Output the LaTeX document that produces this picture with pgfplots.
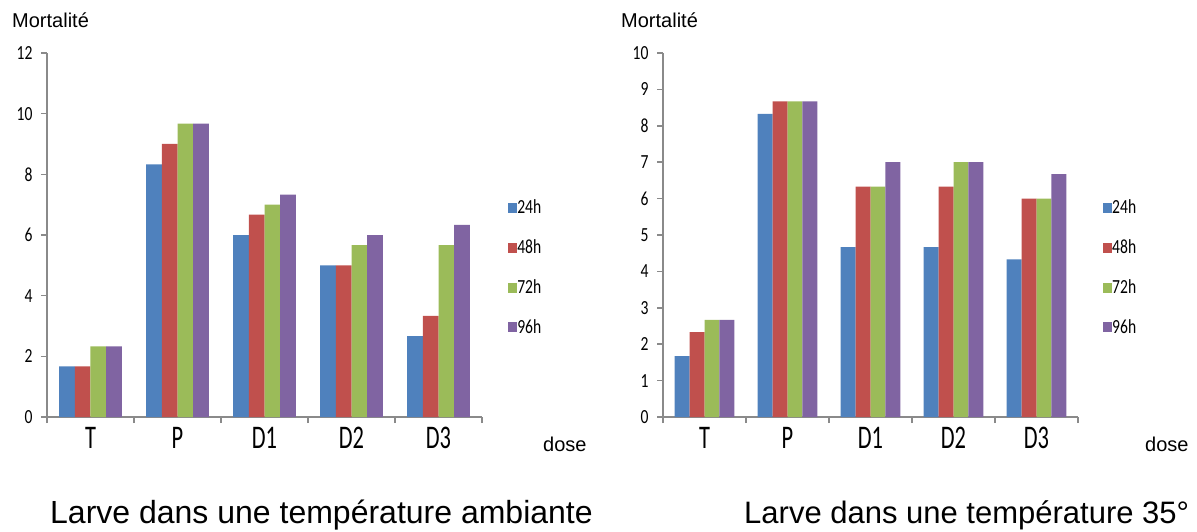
\documentclass[border=0pt]{standalone}
\usepackage{pgfplots}
\pgfplotsset{compat=1.18}
\usepackage{fontspec}
\setmainfont{Liberation Sans}
\newfontfamily\carl{Carlito}
\definecolor{cA}{HTML}{4F81BD}
\definecolor{cB}{HTML}{C0504D}
\definecolor{cC}{HTML}{9BBB59}
\definecolor{cD}{HTML}{8064A2}
\definecolor{axgray}{HTML}{8A8A8A}
\newcommand{\sx}[1]{\scalebox{0.68}[1]{#1}}
\newcommand{\sy}[1]{\scalebox{0.78}[1]{#1}}
\pgfplotsset{
  sq/.style={legend image code/.code={\fill[##1,draw=none] (0pt,-5pt) rectangle (9pt,5pt);}},
  mystyle/.style={
    scale only axis, height=364pt,
    ybar=0pt, bar width=0.18,
    xmin=-0.5, xmax=4.5, ymin=0,
    axis x line*=bottom, axis y line*=left,
    axis line style={draw=axgray, line width=1.5pt, -},
    tick style={draw=axgray, line width=1.5pt},
    tick align=outside, major tick length=6pt,
    xtick={-0.5,0.5,1.5,2.5,3.5,4.5}, xticklabels={},
    extra x ticks={0,1,2,3,4},
    extra x tick labels={\sx{T},\sx{P},\sx{D1},\sx{D2},\sx{D3}},
    extra x tick style={major tick length=0pt, tick style={draw=none}},
    xticklabel style={font=\carl\fontsize{33}{33}\selectfont, yshift=-7pt},
    /pgf/number format/assume math mode=true,
    yticklabel={\sy{\pgfmathprintnumber{\tick}}},
    yticklabel style={font=\carl\fontsize{20}{20}\selectfont, xshift=-5pt},
    legend style={draw=none, fill=none, at={(1.053,0.602)}, anchor=north west,
      font=\carl\fontsize{20}{20}\selectfont, row sep=24.5pt,
      nodes={inner sep=0pt},
      /tikz/every even column/.append style={column sep=5pt}},
    legend cell align=left,
  }
}
\begin{document}
\begin{tikzpicture}[x=1pt,y=1pt]
\useasboundingbox (0,0) rectangle (1197,531);
\begin{axis}[mystyle, at={(47pt,114pt)}, anchor=south west, width=435pt, ymax=12, ytick={0,2,...,12}]
\addplot[fill=cA, draw=none, sq] coordinates {(0,1.67) (1,8.33) (2,6) (3,5) (4,2.67)};
\addplot[fill=cB, draw=none, sq] coordinates {(0,1.67) (1,9) (2,6.67) (3,5) (4,3.33)};
\addplot[fill=cC, draw=none, sq] coordinates {(0,2.33) (1,9.67) (2,7) (3,5.67) (4,5.67)};
\addplot[fill=cD, draw=none, sq] coordinates {(0,2.33) (1,9.67) (2,7.33) (3,6) (4,6.33)};
\legend{\sy{24h},\sy{48h},\sy{72h},\sy{96h}}
\end{axis}
\begin{axis}[mystyle, at={(663pt,114pt)}, anchor=south west, width=415pt, ymax=10, ytick={0,1,...,10}]
\addplot[fill=cA, draw=none, sq] coordinates {(0,1.67) (1,8.33) (2,4.67) (3,4.67) (4,4.33)};
\addplot[fill=cB, draw=none, sq] coordinates {(0,2.33) (1,8.67) (2,6.33) (3,6.33) (4,6)};
\addplot[fill=cC, draw=none, sq] coordinates {(0,2.67) (1,8.67) (2,6.33) (3,7) (4,6)};
\addplot[fill=cD, draw=none, sq] coordinates {(0,2.67) (1,8.67) (2,7) (3,7) (4,6.67)};
\legend{\sy{24h},\sy{48h},\sy{72h},\sy{96h}}
\end{axis}
\node[anchor=base west, inner sep=0pt, font=\fontsize{20}{20}\selectfont] at (12,503) {Mortalité};
\node[anchor=base west, inner sep=0pt, font=\fontsize{20}{20}\selectfont] at (621,503) {Mortalité};
\node[anchor=base west, inner sep=0pt, font=\fontsize{20}{20}\selectfont] at (543,80) {dose};
\node[anchor=base west, inner sep=0pt, font=\fontsize{20}{20}\selectfont] at (1145,80) {dose};
\node[anchor=base west, inner sep=0pt, font=\fontsize{32}{32}\selectfont] at (50,8) {Larve dans une température ambiante};
\node[anchor=base west, inner sep=0pt, font=\fontsize{31}{31}\selectfont] at (744,8) {Larve dans une température 35°};
\end{tikzpicture}
\end{document}
